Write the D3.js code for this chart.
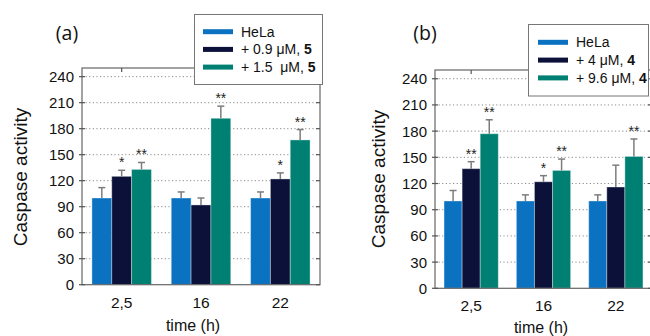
<!DOCTYPE html>
<html><head><meta charset="utf-8">
<script src="https://cdn.jsdelivr.net/npm/d3@7"></script>
<style>body{margin:0;background:#fff}svg{display:block}</style>
</head><body>
<svg id="c" width="650" height="336"></svg>
<script>
// ---- data ----
const categories = ["2,5", "16", "22"];
const yTicks = [0, 30, 60, 90, 120, 150, 180, 210, 240];
const seriesColors = ["#0a72c0", "#0b1139", "#008073"];

const panelALabels = ["HeLa", "+ 0.9 μM, ", "+ 1.5  μM, "];
const panelABold = ["", "5", "5"];
const aHeLa = [100, 100, 100];
const aLow = [125, 92, 122];
const aHigh = [133, 192, 167];
const aHeLaErr = [12, 7, 7];
const aLowErr = [7, 8, 7];
const aHighErr = [8, 14, 12];
const aHeLaStars = ["", "", ""];
const aLowStars = ["*", "", "*"];
const aHighStars = ["**", "**", "**"];

const panelBLabels = ["HeLa", "+ 4 μM, ", "+ 9.6 μM, "];
const panelBBold = ["", "4", "4"];
const bHeLa = [100, 100, 100];
const bLow = [137, 122, 116];
const bHigh = [177, 135, 151];
const bHeLaErr = [12, 7, 7];
const bLowErr = [8, 7, 25];
const bHighErr = [16, 13, 20];
const bHeLaStars = ["", "", ""];
const bLowStars = ["**", "*", ""];
const bHighStars = ["**", "**", "**"];

const svg = d3.select("#c");
const FONT = "'Liberation Sans', Arial, Helvetica, sans-serif";

function panel(o) {
  const g = svg.append("g");
  const y = d3.scaleLinear().domain([0, 250]).range([o.bottom, o.top]);
  const x0 = d3.scaleBand().domain(categories).range([o.left, o.right]).padding(0);
  const gw = x0.bandwidth() * 0.75;
  const x1 = d3.scaleBand().domain([0, 1, 2]).range([-gw / 2, gw / 2]).padding(0);

  // grid
  g.selectAll(".grid").data(yTicks.filter(d => d > 0)).join("line")
    .attr("x1", o.left).attr("x2", o.right)
    .attr("y1", d => y(d)).attr("y2", d => y(d))
    .attr("stroke", "#8a8a8a").attr("stroke-width", 1).attr("stroke-dasharray", "1.2,2.4");

  // bars
  const rows = [];
  o.series.forEach((vals, si) => vals.forEach((v, ci) => rows.push({
    si, ci, v, e: o.errs[si][ci], s: o.stars[si][ci]
  })));
  g.selectAll(".bar").data(rows).join("rect")
    .attr("x", d => x0(categories[d.ci]) + x0.bandwidth() / 2 + x1(d.si))
    .attr("width", x1.bandwidth())
    .attr("y", d => y(d.v)).attr("height", d => y(0) - y(d.v))
    .attr("fill", d => seriesColors[d.si])
    .attr("stroke", "rgba(255,255,255,0.35)").attr("stroke-width", 1);

  // error bars
  const cx = d => x0(categories[d.ci]) + x0.bandwidth() / 2 + x1(d.si) + x1.bandwidth() / 2;
  g.selectAll(".eb").data(rows).join("line")
    .attr("x1", cx).attr("x2", cx)
    .attr("y1", d => y(d.v)).attr("y2", d => y(d.v + d.e))
    .attr("stroke", "#7d7d7d").attr("stroke-width", 1.5);
  g.selectAll(".cap").data(rows).join("line")
    .attr("x1", d => cx(d) - 3.5).attr("x2", d => cx(d) + 3.5)
    .attr("y1", d => y(d.v + d.e)).attr("y2", d => y(d.v + d.e))
    .attr("stroke", "#7d7d7d").attr("stroke-width", 1.5);
  g.selectAll(".star").data(rows.filter(d => d.s)).join("text")
    .attr("x", cx).attr("y", d => y(d.v + d.e) - 3)
    .attr("text-anchor", "middle").attr("font-family", FONT).attr("font-size", 14)
    .attr("fill", "#222").text(d => d.s);

  // frame
  g.append("rect").attr("x", o.left).attr("y", o.top)
    .attr("width", o.right - o.left).attr("height", o.bottom - o.top)
    .attr("fill", "none").attr("stroke", "#666").attr("stroke-width", 1.2);

  // y ticks
  g.selectAll(".yt").data(yTicks).join("line")
    .attr("x1", o.left - 3).attr("x2", o.left + 3)
    .attr("y1", d => y(d)).attr("y2", d => y(d)).attr("stroke", "#555").attr("stroke-width", 1.2);
  g.selectAll(".ytr").data(yTicks).join("line")
    .attr("x1", o.right - 4).attr("x2", o.right)
    .attr("y1", d => y(d)).attr("y2", d => y(d)).attr("stroke", "#555").attr("stroke-width", 1.2);
  g.selectAll(".ytl").data(yTicks).join("text")
    .attr("x", o.left - 8).attr("y", d => y(d) + 5.5)
    .attr("text-anchor", "end").attr("font-family", FONT).attr("font-size", 15)
    .attr("fill", "#111").text(d => d);
  // top ticks
  g.selectAll(".tt").data(categories).join("line")
    .attr("x1", d => x0(d) + x0.bandwidth() / 2).attr("x2", d => x0(d) + x0.bandwidth() / 2)
    .attr("y1", o.top).attr("y2", o.top + 4).attr("stroke", "#555").attr("stroke-width", 1.2);
  g.selectAll(".xtl").data(categories).join("text")
    .attr("x", d => x0(d) + x0.bandwidth() / 2).attr("y", o.xlabY)
    .attr("text-anchor", "middle").attr("font-family", FONT).attr("font-size", 15.5)
    .attr("fill", "#111").text(d => d);

  // axis titles
  g.append("text").attr("x", o.xTitleX).attr("y", o.xTitleY)
    .attr("text-anchor", "middle").attr("font-family", FONT).attr("font-size", 16)
    .attr("fill", "#111").text("time (h)");
  g.append("text").attr("transform", `translate(${o.yTitleX},${o.yTitleY}) rotate(-90)`)
    .attr("text-anchor", "middle").attr("font-family", FONT).attr("font-size", 19)
    .attr("fill", "#111").text("Caspase activity");
  g.append("text").attr("x", o.tagX).attr("y", 40)
    .attr("text-anchor", "middle").attr("font-family", "'Open Sans', sans-serif").attr("font-size", 19.5)
    .attr("fill", "#111").text(o.tag);

  // legend
  const L = o.legend;
  g.append("rect").attr("x", L.x).attr("y", L.y).attr("width", L.w).attr("height", L.h)
    .attr("fill", "#fff").attr("stroke", "#777").attr("stroke-width", 1);
  const items = g.selectAll(".lg").data(o.labels).join("g")
    .attr("transform", (d, i) => `translate(0,${L.y0 + i * L.dy})`);
  items.append("rect").attr("x", L.sx).attr("y", -2.5).attr("width", 30).attr("height", 5)
    .attr("fill", (d, i) => seriesColors[i]);
  const t = items.append("text").attr("x", L.sx + 38).attr("y", 5)
    .attr("font-family", FONT).attr("font-size", 14).attr("fill", "#111")
    .attr("xml:space", "preserve").style("white-space", "pre");
  t.append("tspan").text(d => d);
  t.append("tspan").attr("font-weight", "bold").text((d, i) => o.bold[i]);
}

panel({
  left: 82, right: 320, top: 68, bottom: 284.7,
  series: [aHeLa, aLow, aHigh], errs: [aHeLaErr, aLowErr, aHighErr],
  stars: [aHeLaStars, aLowStars, aHighStars],
  labels: panelALabels, bold: panelABold,
  xlabY: 308, xTitleX: 193, xTitleY: 331, yTitleX: 27, yTitleY: 177, tag: "(a)", tagX: 67,
  legend: { x: 194.5, y: 14.5, w: 128, h: 70, sx: 203, y0: 31.7, dy: 17.7 }
});
panel({
  left: 435, right: 652, top: 70, bottom: 288.3,
  series: [bHeLa, bLow, bHigh], errs: [bHeLaErr, bLowErr, bHighErr],
  stars: [bHeLaStars, bLowStars, bHighStars],
  labels: panelBLabels, bold: panelBBold,
  xlabY: 311, xTitleX: 541, xTitleY: 332.5, yTitleX: 385, yTitleY: 179, tag: "(b)", tagX: 425,
  legend: { x: 528.5, y: 24.5, w: 120, h: 71.5, sx: 538, y0: 42.3, dy: 17.8 }
});
</script>
</body></html>
